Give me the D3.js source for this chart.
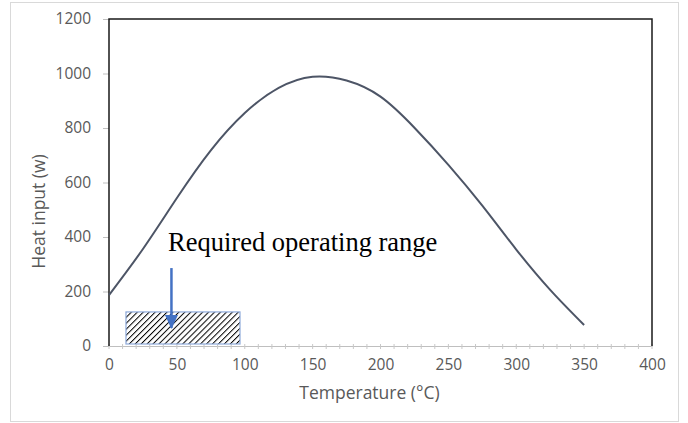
<!DOCTYPE html>
<html>
<head>
<meta charset="utf-8">
<script src="https://cdn.jsdelivr.net/npm/d3@7"></script>
<style>
  body { margin: 0; background: #fff; }
  svg { display: block; }
</style>
</head>
<body>
<svg width="688" height="423"></svg>
<script>
// curve
const tempC = [0, 25, 50, 75, 100, 125, 150, 175, 200, 225, 250, 275, 300, 325, 350];
const heatW = [187, 356, 543, 718, 855, 947, 988, 974, 915, 801, 665, 515, 354, 206, 77];

// required operating range box + arrow
const rangeTemp = [12.5, 96.5];
const rangeHeat = [0, 125];
const arrowTemp = 46;
const arrowHeat = [286, 66];
const noteText = 'Required operating range';

const xTicks = [0, 50, 100, 150, 200, 250, 300, 350, 400];
const yTicks = [0, 200, 400, 600, 800, 1000, 1200];

const svg = d3.select('svg');
const width = +svg.attr('width');
const height = +svg.attr('height');

const margin = { top: 19, right: 36, bottom: 77, left: 109 };
const innerWidth = width - margin.left - margin.right;
const innerHeight = height - margin.top - margin.bottom;

const labelFont = '"Open Sans", sans-serif';
const grey = '#595959';

// outer chart border
svg.append('rect')
  .attr('x', 10.5).attr('y', 2.5)
  .attr('width', 668).attr('height', 419)
  .attr('fill', '#fff')
  .attr('stroke', '#d9d9d9');

const defs = svg.append('defs');
const pat = defs.append('pattern')
  .attr('id', 'hatch')
  .attr('patternUnits', 'userSpaceOnUse')
  .attr('width', 4.2).attr('height', 4.2)
  .attr('patternTransform', 'rotate(45)');
pat.append('rect').attr('width', 4.2).attr('height', 4.2).attr('fill', '#fff');
pat.append('line')
  .attr('x1', 0).attr('y1', 0).attr('x2', 0).attr('y2', 4.2)
  .attr('stroke', '#000').attr('stroke-width', 2);

const arrowHead = defs.append('marker')
  .attr('id', 'arrow')
  .attr('markerUnits', 'userSpaceOnUse')
  .attr('viewBox', '0 0 14 14')
  .attr('refX', 13).attr('refY', 7)
  .attr('markerWidth', 14).attr('markerHeight', 14)
  .attr('orient', 'auto');
arrowHead.append('path').attr('d', 'M0,0.5 L14,7 L0,13.5 Z').attr('fill', '#4472c4');

const xScale = d3.scaleLinear().domain([0, 400]).range([0, innerWidth]);
const yScale = d3.scaleLinear().domain([0, 1200]).range([innerHeight, 0]);

const g = svg.append('g')
  .attr('transform', `translate(${margin.left},${margin.top})`);

// y axis: ticks only, labels grey
const yAxisG = g.append('g')
  .call(d3.axisLeft(yScale).tickValues(yTicks).tickFormat(d3.format('d'))
    .tickSize(6).tickPadding(12))
  .attr('font-family', labelFont)
  .attr('font-size', 15.5);
yAxisG.select('.domain').remove();
yAxisG.selectAll('.tick line').attr('stroke', '#bfbfbf');
yAxisG.selectAll('.tick text').attr('fill', grey);

// x axis, with minor ticks every 10
const xAxisG = g.append('g')
  .attr('transform', `translate(0,${innerHeight})`)
  .call(d3.axisBottom(xScale).tickValues(xTicks).tickFormat(d3.format('d'))
    .tickSize(0).tickPadding(13))
  .attr('font-family', labelFont)
  .attr('font-size', 15.5);
xAxisG.select('.domain').attr('stroke', '#bfbfbf');
xAxisG.selectAll('.tick text').attr('fill', grey);
xAxisG.selectAll('.minor')
  .data(d3.range(0, 401, 10))
  .enter().append('line')
    .attr('class', 'minor')
    .attr('x1', d => xScale(d)).attr('x2', d => xScale(d))
    .attr('y1', -2).attr('y2', 3)
    .attr('stroke', '#c8c8c8');

svg.append('text')
  .attr('x', margin.left + innerWidth / 2 - 11)
  .attr('y', margin.top + innerHeight + 53)
  .attr('text-anchor', 'middle')
  .attr('font-family', labelFont)
  .attr('font-size', 17.5)
  .attr('fill', grey)
  .text('Temperature (°C)');

svg.append('text')
  .attr('transform', `translate(${margin.left - 64},${margin.top + innerHeight / 2 + 29}) rotate(-90)`)
  .attr('text-anchor', 'middle')
  .attr('font-family', labelFont)
  .attr('font-size', 17.5)
  .attr('fill', grey)
  .text('Heat input (w)');

// plot frame: top, left, right dark
g.append('path')
  .attr('d', `M0,${innerHeight} V0 H${innerWidth} V${innerHeight}`)
  .attr('fill', 'none')
  .attr('stroke', '#1a1a1a')
  .attr('stroke-width', 1.5);

// hatched range box
g.append('rect')
  .attr('x', xScale(rangeTemp[0]))
  .attr('y', yScale(rangeHeat[1]))
  .attr('width', xScale(rangeTemp[1]) - xScale(rangeTemp[0]))
  .attr('height', yScale(rangeHeat[0]) - yScale(rangeHeat[1]) - 2)
  .attr('fill', 'url(#hatch)')
  .attr('stroke', '#8eaadb')
  .attr('stroke-width', 1.2);

// curve
const line = d3.line()
  .x((d, i) => xScale(tempC[i]))
  .y(d => yScale(d))
  .curve(d3.curveNatural);
g.append('path')
  .datum(heatW)
  .attr('d', line)
  .attr('fill', 'none')
  .attr('stroke', '#4d5566')
  .attr('stroke-width', 2);

// arrow
g.append('line')
  .attr('x1', xScale(arrowTemp)).attr('x2', xScale(arrowTemp))
  .attr('y1', yScale(arrowHeat[0])).attr('y2', yScale(arrowHeat[1]))
  .attr('stroke', '#4472c4')
  .attr('stroke-width', 2.5)
  .attr('marker-end', 'url(#arrow)');

g.append('text')
  .attr('x', xScale(43.5))
  .attr('y', yScale(349))
  .attr('font-family', '"Liberation Serif", "Times New Roman", serif')
  .attr('font-size', 26.5)
  .attr('fill', '#000')
  .text(noteText);
</script>
</body>
</html>
